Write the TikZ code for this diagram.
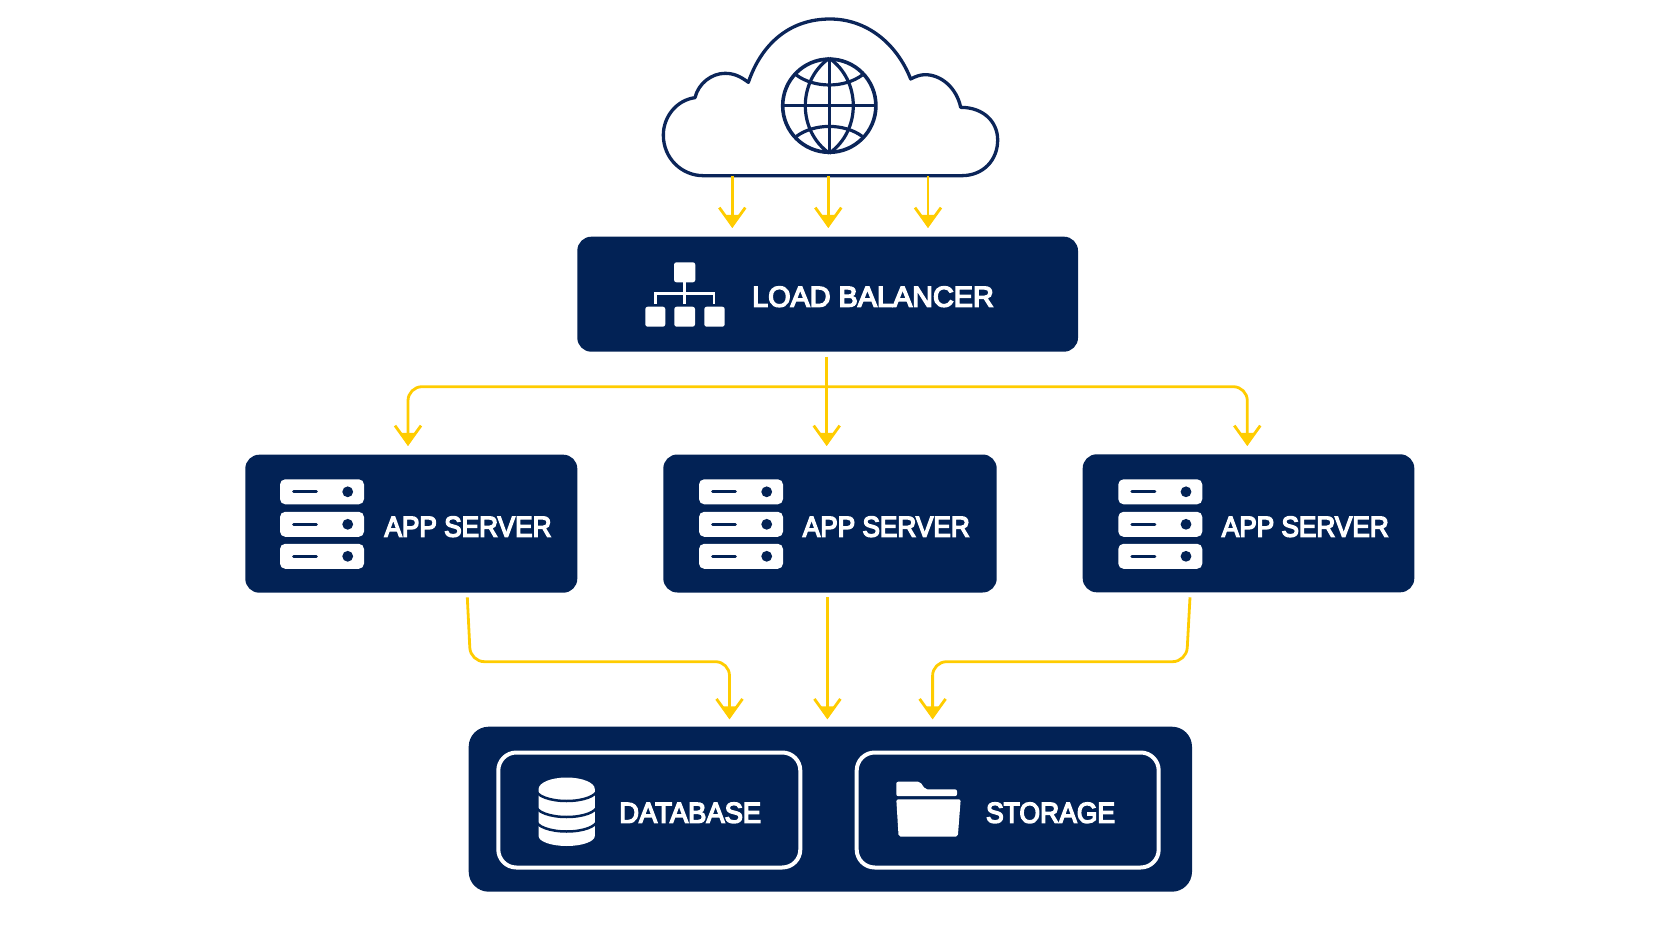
\documentclass[tikz,border=0pt]{standalone}
\usepackage{fontspec}
\setmainfont{Liberation Sans}
\newfontfamily\lblfont[FakeBold=5]{Liberation Sans}
\usetikzlibrary{arrows.meta}
\definecolor{navy}{HTML}{022255}
\definecolor{cloudline}{HTML}{0B2559}
\definecolor{flowcol}{HTML}{FFCC00}
\tikzset{
  x=0.5pt,y=-0.5pt,
  panel/.style={draw=none,fill=navy,rectangle,rounded corners=7pt,inner sep=0pt},
  inner box/.style={draw=white,line width=2pt,fill=navy,rectangle,rounded corners=9pt,inner sep=0pt},
  lbl/.style={text=white,inner sep=0pt,anchor=center,font=\lblfont\fontsize{14.4pt}{16pt}\selectfont},
  flow/.style={draw=flowcol,line width=1.4pt,rounded corners=7pt,
    -{Straight Barb[length=9pt,width=13pt,line width=1.4pt,sep=-6.5pt]Triangle[length=6.5pt,width=8pt]}},
  srvicon/.pic={
    \foreach \yy in {0,32.5,64.5}{
      \fill[white,rounded corners=2.6pt] (0,\yy) rectangle (84,\yy+25);
      \draw[navy,line width=1.45pt,line cap=round] (13.5,\yy+12.5) -- (36.5,\yy+12.5);
      \fill[navy] (67.7,\yy+12.5) circle[radius=2.7pt];
    }
  },
}
\begin{document}
\begin{tikzpicture}
\useasboundingbox (0,0) rectangle (1672,941);
% cloud
\begin{scope}[shift={(640,0)},x=0.16667pt,y=-0.16667pt]
\draw[cloudline,line width=1.65pt,fill=white,line join=round]
 (190,527) -- (965,527) .. controls (1030,527) and (1073,480) .. (1073,420)
 .. controls (1073,365) and (1030,322) .. (962,322)
 .. controls (950,265) and (905,224) .. (855,224)
 .. controls (840,224) and (825,230) .. (812,237)
 .. controls (770,130) and (680,57) .. (570,57)
 .. controls (450,57) and (365,130) .. (325,247)
 .. controls (300,228) and (280,220) .. (255,220)
 .. controls (215,220) and (175,250) .. (165,293)
 .. controls (110,300) and (70,350) .. (70,405)
 .. controls (70,475) and (125,527) .. (190,527) -- cycle;
\end{scope}
% globe
\begin{scope}[shift={(829.3,105.7)}]
\draw[cloudline,line width=1.8pt] (0,0) circle[radius=23.3pt];
\draw[cloudline,line width=1.6pt] (0,-47.5) -- (0,47.5) (-47.5,0) -- (47.5,0);
\draw[cloudline,line width=1.6pt] (0,-47.5) .. controls (-32,-25) and (-32,25) .. (0,47.5);
\draw[cloudline,line width=1.6pt] (0,-47.5) .. controls (32,-25) and (32,25) .. (0,47.5);
\draw[cloudline,line width=1.6pt] (-33,-30.7) .. controls (-15,-17.4) and (15,-17.4) .. (33,-30.7);
\draw[cloudline,line width=1.6pt] (-33,30.7) .. controls (-15,17.4) and (15,17.4) .. (33,30.7);
\end{scope}
% panels
\node[panel,minimum width=250.35pt,minimum height=57.5pt] (lb) at (827.65,294.2) {};
\node[panel,minimum width=166pt,minimum height=69pt] (srvA) at (411.3,523.7) {};
\node[panel,minimum width=166.7pt,minimum height=69pt] (srvB) at (830,523.5) {};
\node[panel,minimum width=165.8pt,minimum height=69pt] (srvC) at (1248.5,523.3) {};
\node[panel,rounded corners=10pt,minimum width=361.65pt,minimum height=82.5pt] (dock) at (830.35,809.2) {};
\node[inner box,minimum width=151pt,minimum height=57.5pt] (dbbox) at (649.3,810) {};
\node[inner box,minimum width=151pt,minimum height=57.5pt] (stbox) at (1007.7,810) {};
% load balancer icon
\fill[white,rounded corners=1.2pt] (674,262.3) rectangle (695.3,282.3);
\fill[white,rounded corners=1.2pt] (645.3,306.7) rectangle (665.3,326.7);
\fill[white,rounded corners=1.2pt] (674.3,306.7) rectangle (695,326.7);
\fill[white,rounded corners=1.2pt] (704.3,306.7) rectangle (724.7,326.7);
\draw[white,line width=1.45pt] (684.7,282) -- (684.7,304) (655.7,304) -- (655.7,293.3) -- (714,293.3) -- (714,304);
\node[lbl] (lbt) at (873,296.7) {LOAD BALANCER};
% servers
\pic at (280,479.3) {srvicon};
\pic at (699,479.3) {srvicon};
\pic at (1118.3,479.3) {srvicon};
\node[lbl] (ta) at (468,526.7) {\scalebox{0.91}[1]{APP SERVER}};
\node[lbl] (tb) at (886.3,526.7) {\scalebox{0.91}[1]{APP SERVER}};
\node[lbl] (tc) at (1305.3,526.7) {\scalebox{0.91}[1]{APP SERVER}};
% database icon
\fill[white] (538.6,789) arc[start angle=180,end angle=360,x radius=28.1,y radius=11.5] -- (594.8,836) arc[start angle=0,end angle=180,x radius=28.1,y radius=10] -- cycle;
\foreach \yy in {789,805,819.5}{
  \draw[navy,line width=1.25pt] (536,\yy+0.5) arc[start angle=180,end angle=0,x radius=30.6,y radius=11.5];
}
\node[lbl] (tdb) at (690.2,812.8) {\scalebox{0.95}[1]{DATABASE}};
% folder icon
\fill[white,rounded corners=1pt] (896.3,796.2) -- (896.3,781.7) -- (920,781.7) -- (925.3,789.3) -- (957,789.3) -- (957,796.2) -- cycle;
\fill[white,rounded corners=1pt] (896.3,799.3) -- (960.7,799.3) -- (957.8,836.7) -- (898.6,836.7) -- cycle;
\node[lbl] (tst) at (1050.6,812.8) {\scalebox{0.92}[1]{STORAGE}};
% cloud to balancer
\coordinate (ca) at (732.3,176);
\coordinate (cb) at (828.3,176);
\coordinate (cc) at (928,176);
\coordinate (ta1) at (732.3,228);
\coordinate (ta2) at (828.3,228);
\coordinate (ta3) at (928,228);
\draw[flow] (ca) -- (ta1);
\draw[flow] (cb) -- (ta2);
\draw[flow] (cc) -- (ta3);
% balancer to servers
\coordinate (trunk) at (826.7,356.7);
\coordinate (bus) at (826.7,386.7);
\coordinate (dropA) at (408,446);
\coordinate (dropB) at (826.7,446);
\coordinate (dropC) at (1247.3,446);
\draw[flow] (trunk) -- (dropB);
\draw[flow] (bus) -| (dropA);
\draw[flow] (bus) -| (dropC);
% servers to store
\coordinate (outA) at (467.3,597.3);
\coordinate (outB) at (827.4,597.3);
\coordinate (outC) at (1190,597.3);
\coordinate (inA) at (729.5,719.3);
\coordinate (inB) at (827.4,719.3);
\coordinate (inC) at (932.6,719.3);
\draw[flow] (outA) -- (470.5,661.7) -- (729.5,661.7) -- (inA);
\draw[flow] (outB) -- (inB);
\draw[flow] (outC) -- (1186.5,661.7) -- (932.6,661.7) -- (inC);
\end{tikzpicture}
\end{document}
